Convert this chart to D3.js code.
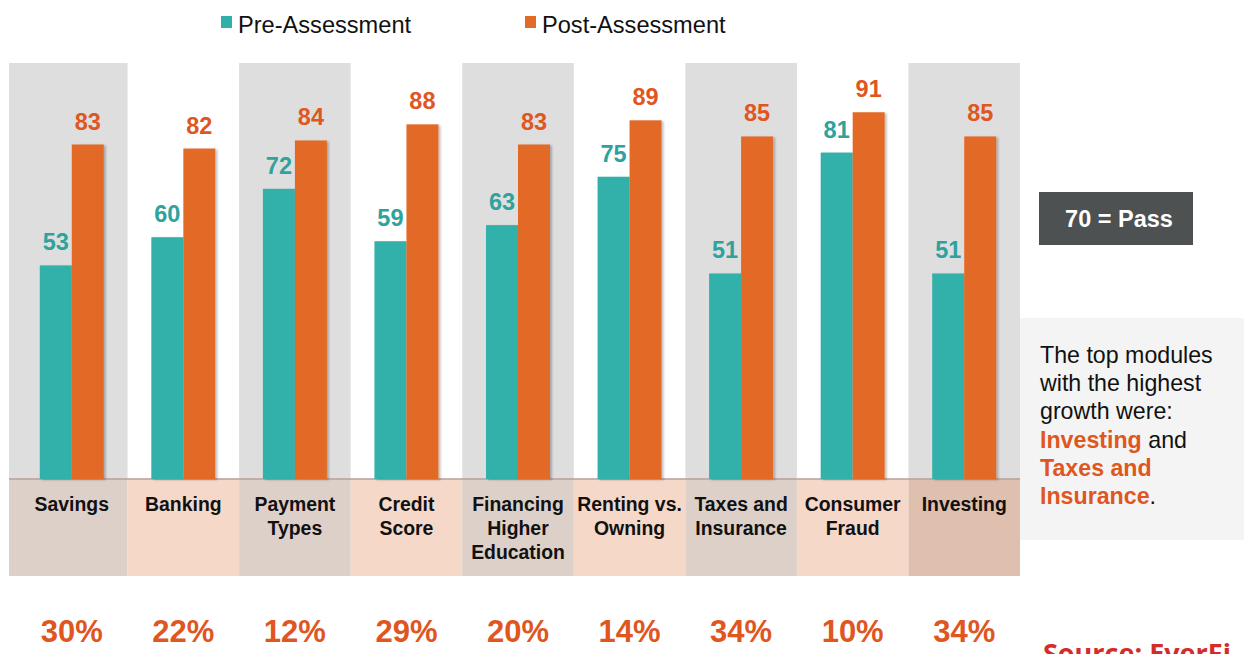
<!DOCTYPE html>
<html>
<head>
<meta charset="utf-8">
<script src="https://cdn.jsdelivr.net/npm/d3@7/dist/d3.min.js"></script>
<style>
  body { margin: 0; background: #fff; }
  svg { display: block; font-family: "Liberation Sans", Arial, sans-serif; }
</style>
</head>
<body>
<svg id="chart" width="1249" height="654"></svg>
<script>
const categories = ['Savings', 'Banking', 'Payment Types', 'Credit Score', 'Financing Higher Education',
  'Renting vs. Owning', 'Taxes and Insurance', 'Consumer Fraud', 'Investing']
// how each label is broken over lines in the label strip
const categoryLines = [['Savings'], ['Banking'], ['Payment', 'Types'], ['Credit', 'Score'],
  ['Financing', 'Higher', 'Education'], ['Renting vs.', 'Owning'], ['Taxes and', 'Insurance'],
  ['Consumer', 'Fraud'], ['Investing']]
const preScores = [53, 60, 72, 59, 63, 75, 51, 81, 51]
const postScores = [83, 82, 84, 88, 83, 89, 85, 91, 85]
const growth = ['30%', '22%', '12%', '29%', '20%', '14%', '34%', '10%', '34%']
const seriesNames = ['Pre-Assessment', 'Post-Assessment']

const teal = '#31b0aa'
const tealText = '#2ea39e'
const orange = '#e36926'
const orangeText = '#e0561f'

const svg = d3.select('#chart')

const x = d3.scaleBand().domain(categories).range([16, 1020]).padding(0)
const xSub = d3.scaleBand().domain(['pre', 'post']).range([0, 64]).padding(0)
const y = d3.scaleLinear().domain([0, 100]).range([479, 76])

const rows = categories.map((c, i) => ({ c, i, pre: preScores[i], post: postScores[i] }))

// drop shadow used on the bars
const defs = svg.append('defs')
defs.append('filter').attr('id', 'shadow').attr('x', '-20%').attr('y', '-5%').attr('width', '150%').attr('height', '120%')
  .append('feDropShadow')
  .attr('dx', 2).attr('dy', 1).attr('stdDeviation', 1.2)
  .attr('flood-color', '#000').attr('flood-opacity', 0.25)

const left = (d) => d.i === 0 ? 9 : x(d.c)
const right = (d) => x(d.c) + x.step()

// grey columns behind every other category
svg.append('g')
  .selectAll('rect')
  .data(rows.filter(d => d.i % 2 === 0))
  .join('rect')
  .attr('x', left)
  .attr('width', d => right(d) - left(d))
  .attr('y', 63)
  .attr('height', y(0) - 63)
  .attr('fill', '#dedede')

// label strip
const stripColor = (d) => d.i === 8 ? '#dfbfae' : (d.i % 2 === 0 ? '#ddd0c8' : '#f6d8c9')
svg.append('g')
  .selectAll('rect')
  .data(rows)
  .join('rect')
  .attr('x', left)
  .attr('width', d => right(d) - left(d))
  .attr('y', y(0))
  .attr('height', 576 - y(0))
  .attr('fill', stripColor)

svg.append('line')
  .attr('x1', 9).attr('x2', 1020)
  .attr('y1', y(0)).attr('y2', y(0))
  .attr('stroke', '#b9a196').attr('stroke-width', 1.5)

// bars
const pairX = (d) => x(d.c) + x.bandwidth() / 2 - 32
const bars = svg.append('g').attr('filter', 'url(#shadow)')
bars.selectAll('rect.pre')
  .data(rows)
  .join('rect')
  .attr('class', 'pre')
  .attr('x', d => pairX(d) + xSub('pre'))
  .attr('width', xSub.bandwidth())
  .attr('y', d => y(d.pre))
  .attr('height', d => y(0) - y(d.pre))
  .attr('fill', teal)
bars.selectAll('rect.post')
  .data(rows)
  .join('rect')
  .attr('class', 'post')
  .attr('x', d => pairX(d) + xSub('post'))
  .attr('width', xSub.bandwidth())
  .attr('y', d => y(d.post))
  .attr('height', d => y(0) - y(d.post))
  .attr('fill', orange)

// value labels
const vals = svg.append('g')
  .attr('font-size', 23.5)
  .attr('font-weight', 'bold')
  .attr('text-anchor', 'middle')
vals.selectAll('text.pre')
  .data(rows)
  .join('text')
  .attr('class', 'pre')
  .attr('x', d => pairX(d) + xSub('pre') + xSub.bandwidth() / 2)
  .attr('y', d => y(d.pre) - 15)
  .attr('fill', tealText)
  .text(d => d.pre)
vals.selectAll('text.post')
  .data(rows)
  .join('text')
  .attr('class', 'post')
  .attr('x', d => pairX(d) + xSub('post') + xSub.bandwidth() / 2)
  .attr('y', d => y(d.post) - 15)
  .attr('fill', orangeText)
  .text(d => d.post)

// category labels
svg.append('g')
  .attr('font-size', 19.4)
  .attr('font-weight', 'bold')
  .attr('text-anchor', 'middle')
  .attr('fill', '#111')
  .selectAll('text')
  .data(rows)
  .join('text')
  .attr('x', d => x(d.c) + x.bandwidth() / 2)
  .attr('y', 511)
  .selectAll('tspan')
  .data(d => categoryLines[d.i].map(t => ({ t, cx: x(d.c) + x.bandwidth() / 2 })))
  .join('tspan')
  .attr('x', d => d.cx)
  .attr('dy', (d, k) => k === 0 ? 0 : 24)
  .text(d => d.t)

// growth percentages
svg.append('g')
  .attr('font-size', 31)
  .attr('font-weight', 'bold')
  .attr('text-anchor', 'middle')
  .attr('fill', orangeText)
  .selectAll('text')
  .data(rows)
  .join('text')
  .attr('x', d => x(d.c) + x.bandwidth() / 2)
  .attr('y', 642)
  .text(d => growth[d.i])

// legend
const legend = svg.append('g').attr('font-size', 23.6).attr('fill', '#111')
const legendX = [221, 525]
seriesNames.forEach((name, k) => {
  legend.append('rect')
    .attr('x', legendX[k]).attr('y', 16)
    .attr('width', 11).attr('height', 12)
    .attr('fill', k === 0 ? teal : orange)
  legend.append('text')
    .attr('x', legendX[k] + 17).attr('y', 33)
    .text(name)
})

// pass box
svg.append('rect')
  .attr('x', 1039).attr('y', 192)
  .attr('width', 154).attr('height', 53)
  .attr('fill', '#4d5152')
svg.append('text')
  .attr('x', 1119).attr('y', 227)
  .attr('text-anchor', 'middle')
  .attr('font-size', 23.5).attr('font-weight', 'bold')
  .attr('fill', '#fff')
  .text('70 = Pass')

// note box
svg.append('rect')
  .attr('x', 1020).attr('y', 318)
  .attr('width', 224).attr('height', 222)
  .attr('fill', '#f4f4f4')
const note = svg.append('text')
  .attr('x', 1040).attr('y', 363)
  .attr('font-size', 23.2)
  .attr('fill', '#111')
const noteLines = [
  [['The top modules', false]],
  [['with the highest', false]],
  [['growth were:', false]],
  [['Investing', true], [' and', false]],
  [['Taxes and', true]],
  [['Insurance', true], ['.', false]]
]
noteLines.forEach((parts, k) => {
  parts.forEach(([t, hi], j) => {
    const ts = note.append('tspan').text(t)
    if (j === 0) ts.attr('x', 1040).attr('dy', k === 0 ? 0 : 28.2)
    if (hi) ts.attr('font-weight', 'bold').attr('fill', orangeText)
  })
})

// source
svg.append('text')
  .attr('x', 1043).attr('y', 663)
  .attr('font-family', '"Open Sans", "DejaVu Sans", sans-serif')
  .attr('font-size', 27).attr('font-weight', 'bold')
  .attr('fill', '#d52b2b')
  .text('Source: EverFi')
</script>
</body>
</html>
